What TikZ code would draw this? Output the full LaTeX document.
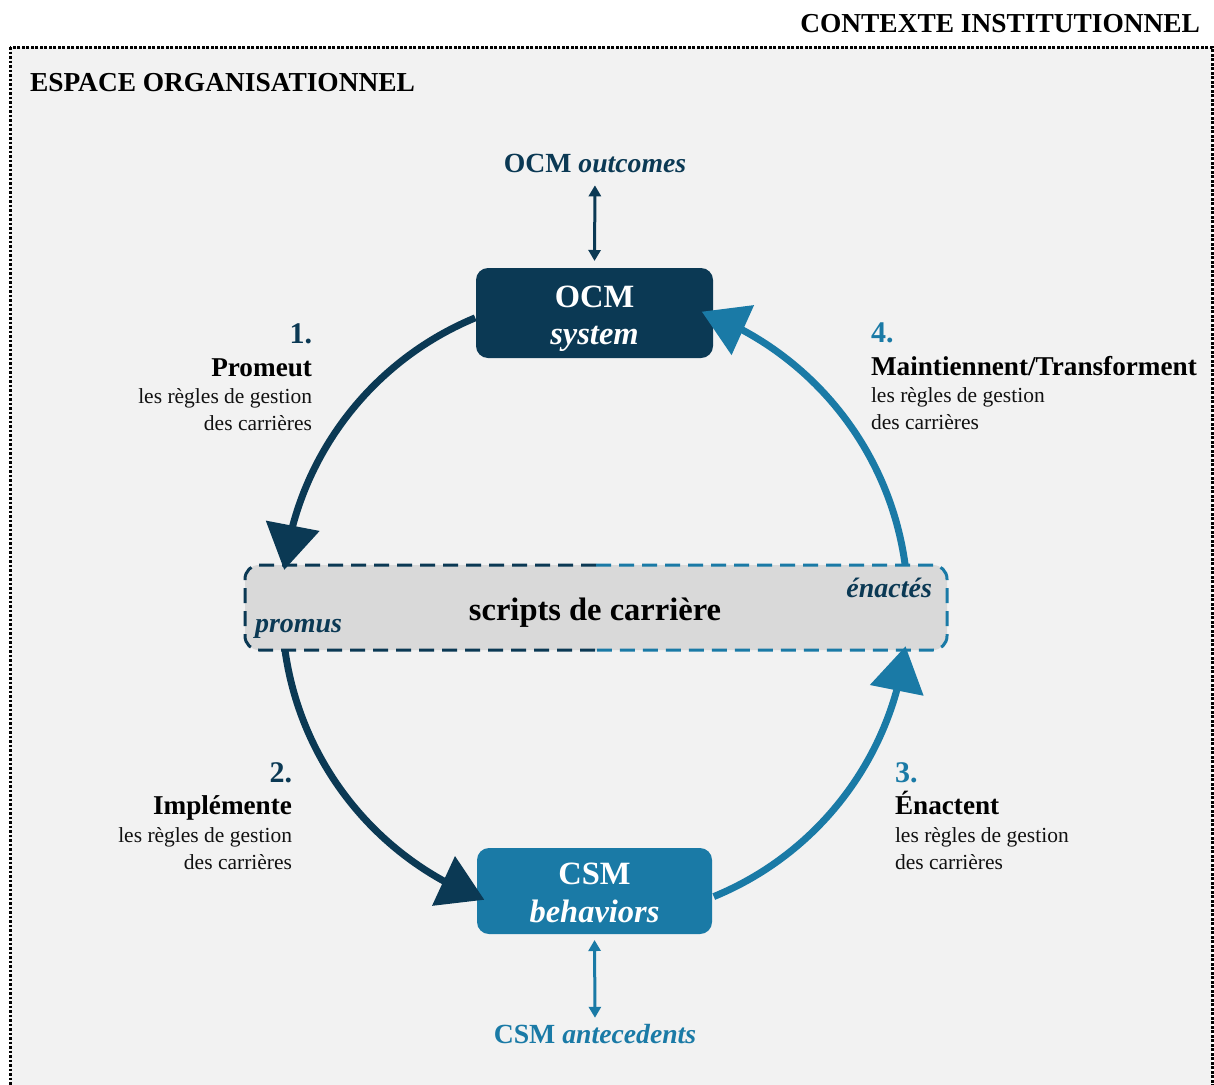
\documentclass[tikz,border=0pt]{standalone}
\usepackage{fontspec}
\setmainfont{Liberation Serif}
\usetikzlibrary{arrows.meta,bending}
\definecolor{navy}{HTML}{0B3954}
\definecolor{lblue}{HTML}{1A7AA6}
\definecolor{bgc}{HTML}{F2F2F2}
\definecolor{scr}{HTML}{D9D9D9}
\definecolor{txt}{HTML}{111111}
\newcommand{\fs}[1]{\fontsize{#1}{#1}\selectfont}
\begin{document}
\begin{tikzpicture}[x=1pt,y=1pt,
  every node/.style={inner sep=0pt, outer sep=0pt},
  bigbox/.style={rounded corners=12pt, minimum width=237pt, minimum height=90pt},
  boxtxt/.style={anchor=base, text=white, font=\fs{32.5}\bfseries},
  num/.style={font=\fs{30}\bfseries},
  head/.style={text=black, font=\fs{27.2}\bfseries},
  desc/.style={text=txt, font=\fs{21.5}},
  title/.style={text=black, font=\fs{27.4}\bfseries},
  cyc/.style={line width=7pt, -{Triangle[length=45pt,width=53pt,flex]}},
  dbl/.style={line width=3pt, {Triangle[length=11pt,width=12pt]}-{Triangle[length=11pt,width=12pt]}},
  dashN/.style={draw=navy, line width=3pt, dash pattern=on 15pt off 8pt, rounded corners=14pt},
  dashL/.style={draw=lblue, line width=3pt, dash pattern=on 15pt off 8pt, rounded corners=14pt},
]
\useasboundingbox (0,0) rectangle (1214,-1084);
\fill[white] (0,0) rectangle (1214,-1084);
\begin{scope}
\clip (0,0) rectangle (1214,-1084);
\draw[fill=bgc, line width=3pt, dash pattern=on 2.7pt off 1.8pt] (10,-47) rectangle (1212,-1100);
\end{scope}

% titles
\node[title, anchor=base east] (ctx) at (1200,-32) {CONTEXTE INSTITUTIONNEL};
\node[title, anchor=base west] (esp) at (30,-91) {ESPACE ORGANISATIONNEL};

% scripts box
\node[fill=scr, rounded corners=14pt, minimum width=702pt, minimum height=85pt] (scripts) at (596,-607.5) {};
\draw[dashN] (scripts.north) -- (scripts.north west) -- (scripts.south west) -- (scripts.south);
\draw[dashL] (scripts.north) -- (scripts.north east) -- (scripts.south east) -- (scripts.south);
\node[anchor=base, text=black, font=\fs{32.5}\bfseries] (scrtxt) at (595,-620) {scripts de carrière};
\node[anchor=base west, text=navy, font=\fs{28}\bfseries\itshape] (promus) at (255,-632) {promus};
\node[anchor=base east, text=navy, font=\fs{28}\bfseries\itshape] (enactes) at (932,-597) {énactés};

% OCM box
\node[bigbox, fill=navy] (ocm) at (594.5,-313) {};
\node[boxtxt] (ocmt1) at (594.5,-307) {OCM};
\node[boxtxt] (ocmt2) at (594.5,-344) {\itshape system};

% CSM box
\node[bigbox, fill=lblue, minimum width=235pt, minimum height=86pt] (csm) at (594.5,-891) {};
\node[boxtxt] (csmt1) at (594.5,-884) {CSM};
\node[boxtxt] (csmt2) at (594.5,-922) {\itshape behaviors};

% outcomes / antecedents
\node[anchor=base, text=navy, font=\fs{27.7}\bfseries] (outc) at (595,-172) {OCM \textit{outcomes}};
\node[anchor=base, text=lblue, font=\fs{27.7}\bfseries] (ante) at (595,-1043) {CSM \textit{antecedents}};
\draw[dbl, navy, shorten <=13pt, shorten >=7pt] (outc.south) -- (ocm.north);
\draw[dbl, lblue, shorten <=6pt, shorten >=6pt] (csm.south) -- (ante.north);

% cycle
\coordinate (ctr) at (595,-607);
\path (ctr) ++(112.5:313) coordinate (a1s);
\path (ctr) ++(188:313) coordinate (a2s);
\path (ctr) ++(292.3:313) coordinate (a3s);
\path (ctr) ++(7.8:313) coordinate (a4s);
\draw[cyc, navy] (a1s) arc[start angle=112.5, end angle=173.2, radius=313];
\draw[cyc, navy] (a2s) arc[start angle=188, end angle=249.3, radius=313];
\draw[cyc, lblue] (a3s) arc[start angle=292.3, end angle=352.8, radius=313];
\draw[cyc, lblue] (a4s) arc[start angle=7.8, end angle=69.8, radius=315];

% step labels
\node[num, text=navy, anchor=base east] (n1) at (312,-343) {1.};
\node[head, anchor=base east] (h1) at (312,-376) {Promeut};
\node[desc, anchor=base east] (d1a) at (312,-403) {les règles de gestion};
\node[desc, anchor=base east] (d1b) at (312,-430) {des carrières};

\node[num, text=navy, anchor=base east] (n2) at (292,-782) {2.};
\node[head, anchor=base east] (h2) at (292,-814) {Implémente};
\node[desc, anchor=base east] (d2a) at (292,-842) {les règles de gestion};
\node[desc, anchor=base east] (d2b) at (292,-869) {des carrières};

\node[num, text=lblue, anchor=base west] (n3) at (895,-782) {3.};
\node[head, anchor=base west] (h3) at (895,-814) {Énactent};
\node[desc, anchor=base west] (d3a) at (895,-842) {les règles de gestion};
\node[desc, anchor=base west] (d3b) at (895,-869) {des carrières};

\node[num, text=lblue, anchor=base west] (n4) at (871,-342) {4.};
\node[head, anchor=base west] (h4) at (871,-375) {Maintiennent/Transforment};
\node[desc, anchor=base west] (d4a) at (871,-402) {les règles de gestion};
\node[desc, anchor=base west] (d4b) at (871,-429) {des carrières};
\end{tikzpicture}
\end{document}
